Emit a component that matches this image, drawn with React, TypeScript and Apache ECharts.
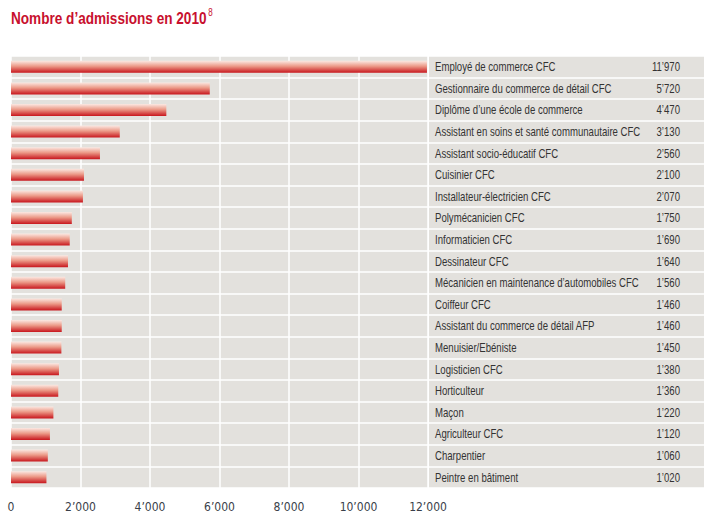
import React, { useEffect, useRef } from "react";
import * as echarts from "echarts";

const categories = [
  "Employé de commerce CFC",
  "Gestionnaire du commerce de détail CFC",
  "Diplôme d’une école de commerce",
  "Assistant en soins et santé communautaire CFC",
  "Assistant socio-éducatif CFC",
  "Cuisinier CFC",
  "Installateur-électricien CFC",
  "Polymécanicien CFC",
  "Informaticien CFC",
  "Dessinateur CFC",
  "Mécanicien en maintenance d’automobiles CFC",
  "Coiffeur CFC",
  "Assistant du commerce de détail AFP",
  "Menuisier/Ebéniste",
  "Logisticien CFC",
  "Horticulteur",
  "Maçon",
  "Agriculteur CFC",
  "Charpentier",
  "Peintre en bâtiment",
];

const admissions = [
  11970, 5720, 4470, 3130, 2560, 2100, 2070, 1750, 1690, 1640, 1560, 1460, 1460,
  1450, 1380, 1360, 1220, 1120, 1060, 1020,
];

const axisMin = 0;
const axisMax = 12000;
const axisStep = 2000;

const TITLE = "Nombre d’admissions en 2010";
const TITLE_NOTE = "8";

const TICK_FONT = '"DejaVu Sans Condensed", "Liberation Sans", sans-serif';
const LABEL_FONT = '"Liberation Sans", Arial, sans-serif';
const LABEL_SCALE = 0.8;

const fmt = (v: number) => {
  const s = Math.round(v).toString();
  return s.replace(/\B(?=(\d{3})+(?!\d))/g, "’");
};

export default function App() {
  const ref = useRef<HTMLDivElement>(null);
  useEffect(() => {
    if (!ref.current) return;
    const chart = echarts.init(ref.current, undefined, { renderer: "svg" });
    const top = 56;
    const height = 432;
    chart.setOption({
      animation: false,
      backgroundColor: "#ffffff",
      graphic: [
        {
          type: "text",
          left: 11,
          top: 8,
          scaleX: 0.8,
          style: {
            text: `{a|${TITLE}}{b|${TITLE_NOTE}}`,
            rich: {
              a: {
                fontFamily: LABEL_FONT,
                fontSize: 17,
                fontWeight: "bold",
                fill: "#c8102e",
                lineHeight: 20,
              },
              b: {
                fontFamily: LABEL_FONT,
                fontSize: 10,
                fill: "#c8102e",
                verticalAlign: "top",
                padding: [0, 0, 0, 2],
                lineHeight: 20,
              },
            },
          },
        },
      ],
      grid: [
        {
          left: 11,
          width: 417,
          top,
          height,
          show: true,
          backgroundColor: "#e3e1dd",
          borderWidth: 0,
        },
        {
          left: 429,
          right: 15,
          top,
          height,
          show: true,
          backgroundColor: "#e3e1dd",
          borderWidth: 0,
        },
      ],
      xAxis: [
        {
          gridIndex: 0,
          type: "value",
          min: axisMin,
          max: axisMax,
          interval: axisStep,
          axisLine: { show: false },
          axisTick: { show: false },
          splitLine: { show: true, lineStyle: { color: "#ffffff", width: 1.5 } },
          axisLabel: {
            margin: 13,
            fontFamily: TICK_FONT,
            fontSize: 12,
            color: "#3a3f4a",
            formatter: (v: number) => fmt(v),
          },
        },
        {
          gridIndex: 1,
          type: "value",
          min: 0,
          max: 1,
          show: false,
        },
      ],
      yAxis: [
        {
          gridIndex: 0,
          type: "category",
          data: categories,
          inverse: true,
          axisLine: { show: false },
          axisTick: { show: false },
          axisLabel: { show: false },
          splitLine: { show: true, lineStyle: { color: "#ffffff", width: 1.5 } },
        },
        {
          gridIndex: 1,
          type: "category",
          data: categories,
          inverse: true,
          axisLine: { show: false },
          axisTick: { show: false },
          axisLabel: { show: false },
          splitLine: { show: true, lineStyle: { color: "#ffffff", width: 1.5 } },
        },
      ],
      series: [
        {
          type: "bar",
          xAxisIndex: 0,
          yAxisIndex: 0,
          data: admissions,
          barWidth: 12,
          itemStyle: {
            color: new echarts.graphic.LinearGradient(0, 0, 0, 1, [
              { offset: 0, color: "#fbe9e3" },
              { offset: 0.45, color: "#ec9a88" },
              { offset: 1, color: "#c8161d" },
            ]),
          },
        },
        {
          type: "custom",
          xAxisIndex: 1,
          yAxisIndex: 1,
          data: categories.map((c, i) => [0, i]),
          renderItem: (params: any, api: any) => {
            const i = params.dataIndex;
            const l = api.coord([0, i]);
            const r = api.coord([1, i]);
            return {
              type: "group",
              children: [
                {
                  type: "text",
                  x: l[0] + 6,
                  y: l[1],
                  scaleX: LABEL_SCALE,
                  style: {
                    text: categories[i],
                    fill: "#333333",
                    fontFamily: LABEL_FONT,
                    fontSize: 12,
                    align: "left",
                    verticalAlign: "middle",
                  },
                },
                {
                  type: "text",
                  x: r[0] - 24,
                  y: r[1],
                  scaleX: LABEL_SCALE,
                  style: {
                    text: fmt(admissions[i]),
                    fill: "#333333",
                    fontFamily: LABEL_FONT,
                    fontSize: 12,
                    align: "right",
                    verticalAlign: "middle",
                  },
                },
              ],
            };
          },
        },
      ],
    });
    return () => chart.dispose();
  }, []);
  return (
    <div
      ref={ref}
      style={{ position: "absolute", left: 0, top: 0, width: 719, height: 527 }}
    />
  );
}
